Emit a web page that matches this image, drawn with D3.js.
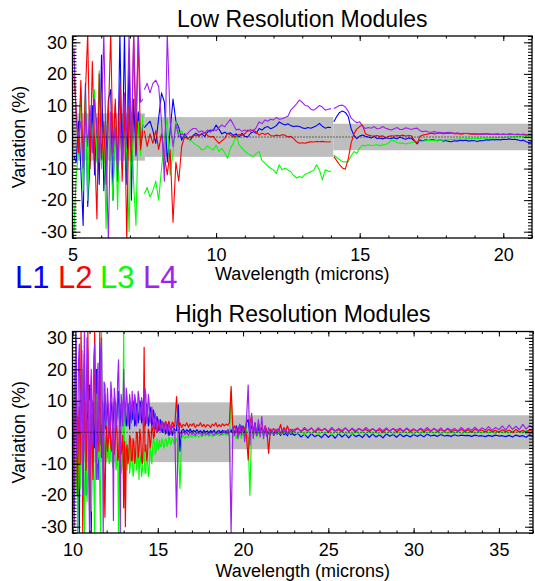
<!DOCTYPE html>
<meta charset="utf-8">

<body style="margin:0;background:#fff;">
    <svg width="535" height="581"></svg>
</body>
<script src="https://cdn.jsdelivr.net/npm/d3@7"></script>
<script>
    // wavelength sampling of each module, [start, stop, step] in microns
    let lowGrid = [[5.05, 7.45, 0.08], [7.5, 14.0, 0.1], [14.1, 21.0, 0.1]];
    let highGrid = [[10.0, 15.95, 0.05], [16.0, 23.0, 0.1], [23.2, 37.0, 0.2]];

    let seriesNames = ["L1", "L2", "L3", "L4"];
    let yTicks = [-30, -20, -10, 0, 10, 20, 30];
    let lowXTicks = [5, 10, 15, 20];
    let highXTicks = [10, 15, 20, 25, 30, 35];

    // gray tolerance bands: [from, to, +/- half width]
    let lowBands = [[5, 7.52, 7.5], [7.52, 14.08, 6.3], [14.08, 21, 4.2]];
    let highBands = [[10, 19.3, 9.5], [19.3, 37, 5.4]];

    // ---- low resolution, one array per module segment ----
    let lowL1 = [
        [-6, -8, 5, -10, -28, 17, -22, -8, 10, -12, 6, -15, 26, -17, -5, 12, 15, -20, 10, -14, 33, -10, 33, -15, 25, -20, 12, -6, 8, -3, 4],
        [3, 4, 5, 2, -2, 6, 14, 11, -8, 2, 12, 5, 3, -1, 1, -0.5, -1, 0.5, 1.2, 0.5,
            1, 0.2, 1.5, 2.2, 2, 3.8, 2.5, 1, 1.5, 1, 1.3, 0.5, 1, 0, 1.2, 0.2, 0, 1.2, 1.7, 1.2,
            2.7, 2.2, 3, 3.3, 2.6, 3, 3.6, 4.8, 4.2, 3.8, 4.2, 3.6, 3.3, 3.5, 3.3, 2.9, 2.7, 3, 2.8, 3.2,
            3.6, 4.3, 3.4, 2.8, 3.1, 3],
        [4.8, 6.5, 7.8, 8.2, 7.8, 6.5, 2.7, 0.5, -0.5, 0.3, 0.6, 0.2, 0, -0.3, 0.2, -0.5, -0.3, -0.6, -0.2, -0.4,
            -0.5, -0.2, -0.6, 0, -0.4, -0.7, -0.3, -0.4, -1.2, -2.2, -1, -1.2, -0.9, -1.1, -0.8, -1, -1.2, -0.9, -1.3, -1.1,
            -1.4, -1.5, -1.2, -1.3, -1, -1.2, -1, -1.3, -1.1, -1.2, -1.4, -1.1, -1.2, -0.9, -1, -0.8, -0.9, -0.8, -0.9, -0.7,
            -0.8, -0.6, -0.8, -0.7, -0.9, -1.2, -1, -1.5, -1.8, -1.4]
    ];
    let lowL2 = [
        [20, 8, -5, 18, -8, 14, 33, -10, 24, -3, -26, 20, -7, 5, -15, 6, 33, -5, 12, -10, 17, -14, 10, -33, 10, -8, 33, -5, 33, -4, 2],
        [2, -3, 1, -2, 2, -4, 1, -6, -12, -4, -27, -8, -14, -3, 0, -0.5, 0, 0.3, 0.6, 0.2,
            1, 1.5, 0.5, 0, 0.2, -1, -2, -1.2, -0.5, 1.2, 0.6, 0, 0.3, 0.8, 0.5, 1, 2.2, 1.8, 2.2, 1.5,
            0.6, 1.2, 0.8, 1.2, 0.5, 0.3, 0.6, 0.4, 0.7, 0.6, 0, 0.2, -0.5, -1.5, -2, -1.8, -2, -1.7, -1.5, -1.6,
            -1.4, -1.5, -1.4, -1.5, -1.6, -1.5],
        [-6.2, -7.5, -8.8, -9.8, -10.2, -7, -2, 1, 2.5, 3.3, 3.8, 1, 0.6, 0.4, 0.3, 0.5, 0.2, 0.4, -0.3, 0.2,
            0.4, 0.3, 0.5, 0.4, 0.6, 0.3, 0.5, 0.4, -1, -2, 0.2, 0.6, 0.8, 1, 1.2, 1, 1.1, 1.3, 1, 1.2,
            1.1, 1.3, 1, 1.1, 0.9, 1, 1.2, 1, 0.9, 1, 0.8, 1, 0.9, 1.1, 0.9, 0.8, 0.9, 1, 0.8, 0.9,
            0.8, 1, 0.9, 0.8, 0.9, 0.8, 0.9, 0.7, 0.8, 0.6]
    ];
    let lowL3 = [
        [-30, -12, -5, 15, -17, 14, -20, 8, -5, 15, -8, 21, -10, 4, -29, 10, -6, -20, 6, -23, 6, -10, 2, -5, -30, 8, -15, -28, 5, -6, 7],
        [-18, -16, -19, -17, -14, -20, -10, 0, 6, -12, -5, 5, 1, 2, 0, -0.5, -1, -1.8, -2.5, -3,
            -4.1, -3.9, -2.8, -3.6, -4.1, -2.6, -4.6, -3.6, -5, -6.7, -3.6, -2, 0.5, -2.5, -3.5, -4.5, -5.2, -5.8, -6.2, -5.2,
            -4.6, -7.5, -8.3, -9.2, -9.9, -10.5, -11.5, -8.8, -10.4, -9.9, -10.5, -11, -12.2, -13, -12.5, -12.8, -11.8, -11.5, -11, -10.5,
            -8.8, -10.5, -13.6, -10.4, -10.8, -10.9],
        [-5.7, -6.5, -7.2, -7.8, -7.9, -7.8, -6, -4.6, -5.2, -3.5, -2.6, -2.8, -2.5, -2.7, -2.6, -2.4, -2.8, -2.5, -2.4, -2,
            -1, -1.2, -1.8, -2, -1.9, -2.2, -2, -1.8, -1.6, -1.5, -1.4, -1.3, -1.2, -1.1, -1, -1.2, -1, -0.9, -1, -0.8,
            -0.9, -0.7, -0.8, -0.7, -0.6, -0.7, -0.6, -0.5, -0.6, -0.5, -0.4, -0.5, -0.4, -0.3, -0.4, -0.2, -0.3, -0.2, -0.1, -0.2,
            0, 0.1, 0, 0.2, 0.1, 0.2, 0.3, 0.2, 0.3, 0.4]
    ];
    let lowL4 = [
        [28, 5, 0, 5, -10, 8, -3, 10, -5, 12, 2, -8, 5, 33, -5, -33, 8, -5, 3, -12, 5, -8, 14, 0, 33, -4, 33, 5, 33, 11, 12],
        [15, 17, 14, 17, 18, 16, 5, -14, 33, 5, -3, 4, 0, 1, 0.5, 1, 2, 2.7, 2.7, 1.5,
            2, 1.2, 2.2, 1.5, 2.5, 2, 3, 3.8, 3.2, 4.5, 5.6, 4, 2.2, 2.5, 1.8, 2.2, 1.7, 2.4, 2, 3,
            4.8, 4.2, 5.4, 5, 5.6, 5.4, 6.2, 5.6, 5.8, 6.2, 6.6, 8.5, 9.5, 10.5, 11.7, 11, 10, 9.8, 8.8, 8.5,
            9.2, 10, 9.5, 8.5, 8.8, 9],
        [9, 9.5, 10, 10.1, 9.5, 8.2, 6, 5.2, 4.5, 4.8, 3.3, 2.7, 3, 2.8, 3.3, 2.6, 2.7, 3.3, 2.8, 2.5,
            2.2, 2.6, 3, 2.4, 2.4, 2.9, 2.7, 2.4, 2.7, 2.8, 2, 1.7, 1.9, 1.6, 1.5, 1.7, 1.4, 1.5, 1.3, 1.4,
            1.5, 1.3, 1.2, 1.3, 1.1, 1.2, 1.1, 1.2, 1, 1.1, 1, 0.9, 1, 0.9, 1, 0.9, 0.8, 0.9, 0.8, 0.9,
            0.8, 0.7, 0.8, 0.8, 0.7, 0.8, 0.7, 0.6, 0.7, 0.6]
    ];

    // ---- high resolution: 10-16 fine, 16-23, 23-37 ----
    let highL1 = [
        [10, -8, -25, 14, 32, -4, 5, -18, -32, 6, 18, -2, -10, 12, 25, -6, -20, 4, 6, 15,
            15, -10, -32, 2, 10, -3, -5, 14, 20, 0, -15, 6, 8, -4, 3, 10, -8, 5, 12, 1,
            2, 9, 7, 1, 3, 10, 8, 2, 4, 11, 9, 3, 5, 10, 13, 4, 2, 9, 7, 2,
            4, 10, 8, 2, 3, 9, 6, 1, 9, 4, 4, 10, 7, 2, 3, 9, 8, 3, 5, 10,
            9, 3, 4, 10, 7, 2, 3, 9, 6, 2, 4, 8, 7, 2, 3, 7, 5, 1, 2, 5,
            4, 0.5, 1, 4, 3, 0, 0, 3, 2, -0.5, 0.5, 2.5, 1.5, -1, -0.5, 1.5, 1, -1, 0, 1.2],
        [0.8, 0.5, 8.7, -6, 0.5, 1, 0, 0.8, 0.2, 1, 0, 0.6, 0.1, 0.8, 0, 0.5, -0.3, 0.6, 0, 0.4,
            -0.2, 0.5, 0, 0.7, -0.3, 0.3, 0.5, -0.2, 0.6, 0, 0.4, -0.5, 1, 0, 1.5, -0.5, 2, 0, 2.5, 0.5,
            2, -1, 3, 4, -1, 2, 0, 3, -1, 1.5, -0.5, 1, -1, 0.5, -1.2, 0, -0.8, 0.3, -1, 0,
            -0.6, -0.2, -1, 0.2, -0.8, -0.3, -1.1, 0, -0.7, -0.4, -1],
        [-0.3, -1.5, -0.6, -1.8, -0.4, -1.4, -0.8, -1.7, -0.5, -1.6, -0.7, -1.9, -0.4, -1.5, -0.6, -1.8, -0.5, -1.4, -0.9, -1.7,
            -0.4, -1.6, -0.6, -1.5, -0.8, -1.8, -0.5, -1.3, -0.7, -1.6, -0.6, -1.4, -0.9, -1.5, -0.7, -1.3, -0.8, -1.4, -0.6, -1.2,
            -0.9, -1.3, -0.7, -1.2, -1.0, -1.3, -0.8, -1.2, -0.9, -1.1, -1.0, -1.3, -0.9, -1.2, -1.1, -1.4, -1.0, -1.3, -0.9, -1.2,
            -1.1, -1.4, -1.0, -1.5, -0.9, -1.3, -1.1, -1.6, -0.8, -1.4]
    ];
    let highL2 = [
        [5, -2, -8, 6, 12, -5, -20, 3, 8, -10, 32, 15, -32, -4, 10, 2, -12, 6, 32, 8,
            -25, -6, 6, -2, -15, 4, 32, 12, -10, -3, 4, -6, 32, 10, -8, 2, 5, -12, -27, -4,
            2, -6, -3, 4, 3, -5, -6, 2, 1, -7, -4, 3, 2, -9, -8, 1, 0, -7, -5, -1,
            -24, -3, -30, -6, -4, -10, -8, -1, -2, -9, -9, -2, -3, -10, -7, 0, 0, -8, -6, 1,
            -2, -9, -10, -1, 27, -6, -4, -9, -7, 1, 0, -5, -3, 2, 1, -2, -1, 3, 2, 0,
            0.5, 3.5, 3, 0.5, 1, 3.5, 2.5, 1, 1.5, 3.5, 3, 1, 2, 3.5, 2.5, 1.2, 1.8, 3.2, 3, 1.5],
        [2, 11.3, 2, 3, 1.5, 2.5, 2, 3, 1.6, 2.6, 2, 2.8, 1.5, 2.4, 2, 3, 1.8, 2.5, 1.6, 2.4,
            2.2, 1.5, 2.6, 2, 3, 1.7, 2.4, 1.8, 2.7, 2, 2.6, 2.2, 3, 14.5, 1, 2, 0, 1.5, -0.5, 2,
            0.5, 1.5, -1, -8.8, 3, 5, 0, 2, -1, 3, 0.5, 1.5, 0, 2, 0.5, -6.7, 1, 0.3, 1.2, 0,
            1, 0.4, 2.5, 0, 1.5, 0.3, 2, 0.5, 1, 0.2, 0.8],
        [1.3, 0.2, 1.0, 0.4, 1.4, 0.1, 0.9, 0.5, 1.2, 0.0, 1.1, 0.4, 0.8, 0.2, 1.3, 0.3, 1.0, 0.1, 1.2, 0.5,
            0.9, 0.2, 1.1, 0.3, 0.8, 0.0, 1.0, 0.4, 1.2, 0.1, 0.9, 0.3, 1.1, 0.2, 0.8, 0.4, 1.0, 0.1, 0.9, 0.3,
            1.2, 0.2, 0.8, 0.4, 1.0, 0.1, 0.7, 0.3, 0.9, 0.2, 0.8, 0.0, 1.0, 0.3, 0.7, 0.1, 0.9, 0.2, 0.6, 0.0,
            0.8, 0.2, 0.7, -0.1, 0.9, 0.1, 0.6, 0.0, 0.8, 0.2]
    ];
    let highL3 = [
        [-32, -5, 15, -8, -20, 6, -32, -12, 5, -18, -10, 8, 20, -14, -32, -4, 0, -22, -15, 3,
            10, -8, -25, -6, 2, -15, -32, -3, 12, -10, -8, 4, -20, -32, 32, -5, -12, -2, -5, -10,
            4, -8, -4, -10, -9, -2, -3, -11, -8, -3, -5, -12, -10, -4, -32, -9, -6, -13, -11, -5,
            32, -12, -8, -3, -12, -6, -5, -13, -10, -4, -7, -14, -12, -5, -6, -12, -9, -4, -15, -7,
            -8, -14, -12, -5, -6, -13, -13, -6, -9, -14, -11, -5, -7, -10, -5, -2, -3, -7, -6, -2,
            -4, -5.5, -2.5, -4.5, -4.5, -2, -3, -5, -4, -2, -2.5, -4.5, -3.5, -1.5, -2, -4, -3.2, -1.8, -2.5, -3.8],
        [-3, -2, -4, -17.8, -2, -1, -2, -1.2, -1.8, -1, -1.6, -1, -1.5, -0.8, -1.6, -1, -1.4, -0.7, -1.2, -0.6,
            -1.3, -0.8, -1.4, -0.6, -1, -0.5, -1.2, -0.6, -0.9, -0.4, -1, -0.5, -1.2, 12.9, -1.5, -0.5, -2, 0, -1, -2,
            0.5, -1.5, 1, -2, -20, 1, -1, 0.5, -1.5, 0, -1, 0.5, -0.8, 0, -0.6, 0.3, -0.5, 0, -0.7, 0.2,
            -0.4, 0, -0.6, 0.1, -0.3, 0.2, -0.5, 0, -0.3, 0.1, -0.2],
        [-0.6, 0.2, -0.8, 0.1, -0.5, 0.3, -0.7, 0.0, -0.4, 0.2, -0.8, 0.1, -0.5, 0.3, -0.6, -0.1, -0.7, 0.2, -0.4, 0.0,
            -0.6, 0.3, -0.5, 0.1, -0.7, 0.0, -0.4, 0.2, -0.6, 0.1, -0.5, 0.3, -0.3, 0.0, -0.6, 0.2, -0.4, 0.1, -0.5, 0.2,
            -0.3, 0.0, -0.5, 0.3, -0.4, 0.1, -0.3, 0.2, -0.5, 0.0, -0.2, 0.3, -0.4, 0.1, -0.3, 0.4, -0.2, 0.1, -0.4, 0.3,
            -0.1, 0.2, -0.3, 0.4, 0.0, 0.3, -0.2, 0.5, 0.1, 0.3]
    ];
    let highL4 = [
        [25, -12, -30, 18, 30, -8, -5, 22, 28, 0, 10, 26, -20, 14, 32, -6, 5, 30, 25, -10,
            -32, 12, 20, -4, 8, 24, 28, 2, -15, 18, 22, -3, 3, 26, 30, 6, -32, 16, 15, 2,
            5, 14, 8, -2, 2, 16, 12, 3, -28, 14, 10, 1, 4, 17, 23, 6, -32, 12, 9, 2,
            20, 8, 3, 14, 11, 2, 5, 12, 9, 3, 13, 7, 4, 12, 10, 2, 6, 13, 11, 4,
            5, 11, 9, 2, 4, 14, 12, 3, 6, 12, 9, 3, 5, 8, 6, 1, 3, 6, 4, 0.5,
            2, 4, 3.5, 0.5, 1.5, 3.5, 3, 0, 1, 3, 2.5, -0.5, 0.5, 2.5, 2, -0.5, 0.8, 2, 1.5, -0.5],
        [0.5, -27, 1, 0, -1, 0.5, -0.8, 0, -1, 0.2, -0.8, -0.2, -1, 0, -0.6, -0.2, -1, 0, -0.7, -0.3,
            -0.8, 0, -0.5, -1, -0.2, -0.6, 0, -0.8, -0.3, 0.5, -0.5, 0.8, -1.5, -32, 2, -1, 1.5, -2, 2.5, -1,
            1.5, -3, 4, 15, -4, 6, -2, 3, -1, 4, -1.5, 5, -2, 2, -1, 1.5, -0.5, 1, -0.8, 0.8,
            -0.3, 1.2, -0.5, 0.8, 0, 1, -0.4, 0.7, 0.1, 0.9, 0.2],
        [1.2, 0.3, 1.5, 0.5, 1.3, 0.2, 1.4, 0.6, 1.1, 0.3, 1.5, 0.4, 1.2, 0.6, 1.4, 0.3, 1.3, 0.5, 1.2, 0.4,
            1.5, 0.6, 1.1, 0.3, 1.3, 0.5, 1.4, 0.4, 1.2, 0.6, 1.3, 0.3, 1.4, 0.5, 1.1, 0.4, 1.3, 0.6, 1.5, 0.4,
            1.2, 0.5, 1.4, 0.3, 1.3, 0.6, 1.2, 0.4, 1.5, 0.5, 1.3, 0.6, 1.6, 0.5, 1.4, 0.7, 1.8, 0.6, 1.5, 0.8,
            2.0, 0.7, 2.3, 0.9, 1.9, 0.8, 2.5, 1.0, 2.2, 1.2]
    ];

    let colors = { L1: "#0000ff", L2: "#ff0000", L3: "#00ff00", L4: "#a020f0" };
    let drawOrder = ["L1", "L3", "L2", "L4"];
    let font = "'Liberation Sans', Arial, Helvetica, sans-serif";
    let svg = d3.select("svg");

    let gridX = (g) => {
        let n = Math.round((g[1] - g[0]) / g[2]);
        return d3.range(n + 1).map(i => +(g[0] + i * g[2]).toFixed(3));
    };

    // pair the wavelength grids with the values
    let toSegments = (grids, values, joined) => {
        let xs = grids.map(gridX);
        if (joined) {
            let allX = [].concat(...xs), allY = [].concat(...values);
            return [allX.map((x, i) => [x, allY[i]])];
        }
        return xs.map((gx, k) => gx.map((x, i) => [x, values[k][i]]));
    };

    let tidy = (sel) => {
        sel.select(".domain").remove();
        sel.selectAll("line").attr("stroke", "#000").attr("stroke-width", 1);
        sel.selectAll("text").attr("font-family", font).attr("font-size", 18).attr("fill", "#000");
    };

    let panel = (o) => {
        let x = d3.scaleLinear().domain(o.xDomain).range([o.left, o.right]);
        let y = d3.scaleLinear().domain([-32, 32]).range([o.bottom, o.top]);
        let g = svg.append("g");

        g.append("clipPath").attr("id", o.id).append("rect")
            .attr("x", o.left).attr("y", o.top)
            .attr("width", o.right - o.left).attr("height", o.bottom - o.top);
        let plot = g.append("g").attr("clip-path", `url(#${o.id})`);

        plot.selectAll("rect").data(o.bands).join("rect")
            .attr("x", d => x(d[0])).attr("width", d => x(d[1]) - x(d[0]))
            .attr("y", d => y(d[2])).attr("height", d => y(-d[2]) - y(d[2]))
            .attr("fill", "#bebebe");

        let line = d3.line().x(d => x(d[0])).y(d => y(d[1]));
        drawOrder.forEach(name => {
            o.series[name].forEach(seg => {
                plot.append("path").datum(seg).attr("d", line)
                    .attr("fill", "none").attr("stroke", colors[name])
                    .attr("stroke-width", o.lineWidth).attr("stroke-linejoin", "round");
            });
        });

        plot.append("line")
            .attr("x1", o.left).attr("x2", o.right).attr("y1", y(0)).attr("y2", y(0))
            .attr("stroke", "#000").attr("stroke-width", 1).attr("stroke-dasharray", "1,2");

        let minorX = d3.range(Math.ceil(o.xDomain[0]), Math.floor(o.xDomain[1]) + 1);
        let minorY = d3.range(-32, 33);
        let fmt = d => String(d);

        g.append("g").attr("transform", `translate(0,${o.bottom})`)
            .call(d3.axisBottom(x).tickValues(o.xTicks).tickSize(-5).tickPadding(10).tickFormat(fmt)).call(tidy);
        g.append("g").attr("transform", `translate(0,${o.bottom})`)
            .call(d3.axisBottom(x).tickValues(minorX).tickSize(-2.5).tickFormat("")).call(tidy);
        g.append("g").attr("transform", `translate(0,${o.top})`)
            .call(d3.axisTop(x).tickValues(o.xTicks).tickSize(-5).tickFormat("")).call(tidy);
        g.append("g").attr("transform", `translate(0,${o.top})`)
            .call(d3.axisTop(x).tickValues(minorX).tickSize(-2.5).tickFormat("")).call(tidy);
        g.append("g").attr("transform", `translate(${o.left},0)`)
            .call(d3.axisLeft(y).tickValues(yTicks).tickSize(-8).tickPadding(5.5).tickFormat(fmt)).call(tidy);
        g.append("g").attr("transform", `translate(${o.left},0)`)
            .call(d3.axisLeft(y).tickValues(minorY).tickSize(-4).tickFormat("")).call(tidy);
        g.append("g").attr("transform", `translate(${o.right},0)`)
            .call(d3.axisRight(y).tickValues(yTicks).tickSize(-8).tickFormat("")).call(tidy);
        g.append("g").attr("transform", `translate(${o.right},0)`)
            .call(d3.axisRight(y).tickValues(minorY).tickSize(-4).tickFormat("")).call(tidy);

        g.append("rect").attr("x", o.left).attr("y", o.top)
            .attr("width", o.right - o.left).attr("height", o.bottom - o.top)
            .attr("fill", "none").attr("stroke", "#000").attr("stroke-width", 1.3);

        let cx = (o.left + o.right) / 2;
        g.append("text").attr("x", cx).attr("y", o.titleY).attr("text-anchor", "middle")
            .attr("font-family", font).attr("font-size", 23).text(o.title);
        g.append("text").attr("x", cx).attr("y", o.xLabelY).attr("text-anchor", "middle")
            .attr("font-family", font).attr("font-size", 18).text("Wavelength (microns)");
        g.append("text").attr("transform", `translate(25,${y(0)}) rotate(-90)`).attr("text-anchor", "middle")
            .attr("font-family", font).attr("font-size", 18).text("Variation (%)");
    };

    panel({
        id: "clip-low", title: "Low Resolution Modules", xDomain: [5, 21], xTicks: lowXTicks,
        left: 72.5, right: 532, top: 36, bottom: 238, titleY: 27, xLabelY: 280, bands: lowBands, lineWidth: 1.1,
        series: {
            L1: toSegments(lowGrid, lowL1), L2: toSegments(lowGrid, lowL2),
            L3: toSegments(lowGrid, lowL3), L4: toSegments(lowGrid, lowL4)
        }
    });
    panel({
        id: "clip-high", title: "High Resolution Modules", xDomain: [10, 37], xTicks: highXTicks,
        left: 72.5, right: 533, top: 331.5, bottom: 533, titleY: 322, xLabelY: 577, bands: highBands, lineWidth: 1.2,
        series: {
            L1: toSegments(highGrid, highL1, true), L2: toSegments(highGrid, highL2, true),
            L3: toSegments(highGrid, highL3, true), L4: toSegments(highGrid, highL4, true)
        }
    });

    // legend
    let legendX = [15, 58, 100, 143];
    svg.selectAll("text.legend").data(seriesNames).join("text")
        .attr("class", "legend")
        .attr("x", (d, i) => legendX[i]).attr("y", 288)
        .attr("font-family", font).attr("font-size", 31)
        .attr("fill", d => colors[d]).text(d => d);
</script>
